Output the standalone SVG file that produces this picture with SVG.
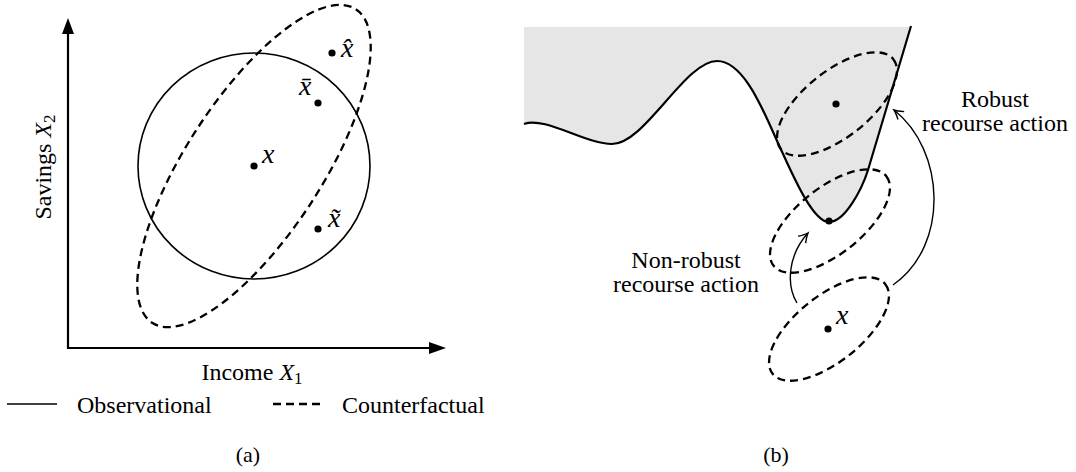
<svg xmlns="http://www.w3.org/2000/svg" width="1076" height="472" viewBox="0 0 1076 472">
<style>
text{font-family:"Liberation Serif","Times New Roman",serif;fill:#000;font-size:24px}
.m{font-style:italic;font-size:28px}
.mi{font-style:italic}
.sub{font-style:normal;font-size:17px}
.dash{fill:none;stroke:#000;stroke-width:2.3;stroke-dasharray:8 5}
.solid{fill:none;stroke:#000;stroke-width:1.6}
.axis{fill:none;stroke:#000;stroke-width:2.2}
.arr{fill:none;stroke:#000;stroke-width:1.4;marker-end:url(#v)}
.cap{font-size:22px}
</style>
<defs>
<marker id="v" markerUnits="userSpaceOnUse" markerWidth="20" markerHeight="20" refX="0" refY="0" viewBox="-10 -10 20 20" orient="auto">
<path d="M-9,-5 Q-3,-1 0,0 Q-3,1 -9,5" fill="none" stroke="#000" stroke-width="1.4"/>
</marker>
</defs>

<!-- Panel (a) -->
<g id="axes">
<path class="axis" d="M68,33 L68,348 L430,348"/>
<polygon points="68,18 62,34 74,34"/>
<polygon points="446,348 429,342 429,354"/>
<text x="252" y="380" text-anchor="middle">Income <tspan class="mi">X</tspan><tspan class="sub" dy="4">1</tspan></text>
<text transform="translate(51,167) rotate(-90)" text-anchor="middle">Savings <tspan class="mi">X</tspan><tspan class="sub" dy="4">2</tspan></text>
</g>
<g id="observational">
<ellipse class="solid" cx="254" cy="166" rx="116" ry="113"/>
</g>
<g id="counterfactual">
<ellipse class="dash" cx="254" cy="166" rx="187" ry="68" transform="rotate(-57 254 166)"/>
</g>
<g id="point-x">
<circle cx="254" cy="166" r="3.6"/>
<text class="m" x="262" y="163">x</text>
</g>
<g id="point-xhat">
<circle cx="332" cy="53" r="3.6"/>
<text class="m" x="341" y="57">x̂</text>
</g>
<g id="point-xbar">
<circle cx="318" cy="103" r="3.6"/>
<text class="m" x="299" y="95">x̄</text>
</g>
<g id="point-xtilde">
<circle cx="318" cy="229" r="3.6"/>
<text class="m" x="328" y="227">x̃</text>
</g>
<g id="legend">
<line x1="7" y1="404" x2="57" y2="404" stroke="#000" stroke-width="1.6"/>
<text x="77" y="413">Observational</text>
<line x1="273" y1="404" x2="321" y2="404" class="dash"/>
<text x="342" y="413">Counterfactual</text>
</g>
<text class="cap" x="248" y="462" text-anchor="middle">(a)</text>

<!-- Panel (b) -->
<g id="region">
<path d="M524,27 L911,27 L868,170 C862,189 845,222 829,222 C812,222 791,171 778,143 C765,115 745,61 717,61 C685,61 645,144 612,144 C585,144 545,116 524,124 Z" fill="#e6e6e6"/>
<path d="M524,124 C545,116 585,144 612,144 C645,144 685,61 717,61 C745,61 765,115 778,143 C791,171 812,222 829,222 C845,222 862,189 868,170 L911,26" fill="none" stroke="#000" stroke-width="2.2"/>
</g>
<g id="robust-set">
<ellipse class="dash" cx="837" cy="104" rx="72" ry="33" transform="rotate(-38.5 837 104)"/>
<circle cx="836" cy="104" r="3.6"/>
</g>
<g id="nonrobust-set">
<ellipse class="dash" cx="830" cy="221" rx="72" ry="33" transform="rotate(-38.5 830 221)"/>
<circle cx="829" cy="221" r="3.6"/>
</g>
<g id="origin-set">
<ellipse class="dash" cx="829" cy="329" rx="72" ry="33" transform="rotate(-38.5 829 329)"/>
<circle cx="828" cy="329" r="3.6"/>
<text class="m" x="836" y="324">x</text>
</g>
<g id="connectors">
<path class="arr" d="M797,303 C786,285 788,255 808,233"/>
<path class="arr" d="M893,285 C950,245 945,150 894,110"/>
</g>
<g id="labels">
<text x="686" y="268" text-anchor="middle">Non-robust</text>
<text x="686" y="292" text-anchor="middle">recourse action</text>
<text x="995" y="107" text-anchor="middle">Robust</text>
<text x="995" y="131" text-anchor="middle">recourse action</text>
</g>
<text class="cap" x="776" y="462" text-anchor="middle">(b)</text>
</svg>
